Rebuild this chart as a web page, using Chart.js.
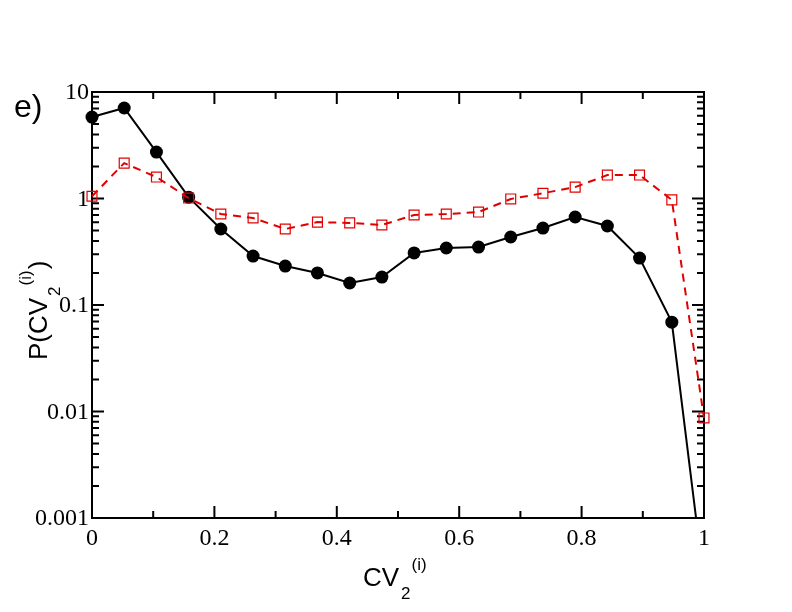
<!DOCTYPE html>
<html><head><meta charset="utf-8">
<script src="https://cdn.jsdelivr.net/npm/chart.js@4"></script>
<style>html,body{margin:0;padding:0;background:#fff;}#wrap{width:792px;height:612px;position:relative;}</style>
</head><body><div id="wrap"><canvas id="c" width="792" height="612"></canvas></div>
<script>
// ---- data ----
const xValues = [0, 0.0526, 0.1053, 0.1579, 0.2105, 0.2632, 0.3158, 0.3684, 0.4211, 0.4737,
                 0.5263, 0.5789, 0.6316, 0.6842, 0.7368, 0.7895, 0.8421, 0.8947, 0.9474, 1.0];
const blackValues = [5.82, 7.08, 2.73, 1.03, 0.517, 0.288, 0.232, 0.200, 0.161, 0.183,
                     0.308, 0.343, 0.350, 0.435, 0.528, 0.670, 0.552, 0.276, 0.069, 0.00025];
const redValues = [1.05, 2.15, 1.59, 1.01, 0.715, 0.656, 0.517, 0.600, 0.590, 0.564,
                   0.700, 0.715, 0.746, 0.990, 1.12, 1.28, 1.66, 1.66, 0.970, 0.0087];
const xTickValues = [0, 0.2, 0.4, 0.6, 0.8, 1];
const xTickLabels = ['0', '0.2', '0.4', '0.6', '0.8', '1'];
const xMinorTicks = [0.1, 0.3, 0.5, 0.7, 0.9];
const yTickValues = [0.001, 0.01, 0.1, 1, 10];
const yTickLabels = ['0.001', '0.01', '0.1', '1', '10'];
const panelLabel = 'e)';

const RED = 'rgb(225,0,0)';
const toPts = ys => xValues.map((x, i) => ({x: x, y: ys[i]}));

const framePlugin = {
  id: 'frame',
  beforeDatasetsDraw(chart) {
    const {ctx, chartArea: a, scales: {x, y}} = chart;
    ctx.save();
    ctx.strokeStyle = '#000';
    ctx.lineWidth = 2;
    ctx.strokeRect(a.left, a.top, a.right - a.left, a.bottom - a.top);
    const tick = (px, len, vertical) => {
      ctx.beginPath();
      if (vertical) {
        ctx.moveTo(px, a.bottom); ctx.lineTo(px, a.bottom - len);
        ctx.moveTo(px, a.top); ctx.lineTo(px, a.top + len);
      } else {
        ctx.moveTo(a.left, px); ctx.lineTo(a.left + len, px);
        ctx.moveTo(a.right, px); ctx.lineTo(a.right - len, px);
      }
      ctx.stroke();
    };
    xTickValues.forEach(v => tick(x.getPixelForValue(v), 12, true));
    xMinorTicks.forEach(v => tick(x.getPixelForValue(v), 7, true));
    yTickValues.forEach(v => tick(y.getPixelForValue(v), 12, false));
    for (let d = 0; d < yTickValues.length - 1; d++) {
      for (let m = 2; m <= 9; m++) tick(y.getPixelForValue(yTickValues[d] * m), 7, false);
    }
    ctx.restore();
  },
  afterDraw(chart) {
    const {ctx} = chart;
    ctx.save();
    ctx.fillStyle = '#000';
    ctx.textBaseline = 'alphabetic';
    ctx.textAlign = 'left';
    const drawTitle = (x0, y0) => {
      let cx = x0;
      ctx.font = '26px "Liberation Sans", Arial, sans-serif';
      ctx.fillText('CV', cx, y0); cx += ctx.measureText('CV').width + 2;
      ctx.font = '17px "Liberation Sans", Arial, sans-serif';
      ctx.fillText('2', cx, y0 + 13); cx += ctx.measureText('2').width + 1;
      ctx.fillText('(i)', cx, y0 - 16); cx += ctx.measureText('(i)').width;
      return cx;
    };
    // x title
    drawTitle(363, 586);
    // y title (rotated)
    ctx.save();
    ctx.translate(47, 360);
    ctx.rotate(-Math.PI / 2);
    ctx.font = '26px "Liberation Sans", Arial, sans-serif';
    ctx.fillText('P(', 0, 0);
    let w = ctx.measureText('P(').width;
    let end = drawTitle(w, 0);
    ctx.font = '26px "Liberation Sans", Arial, sans-serif';
    ctx.fillText(')', end + 1, 0);
    ctx.restore();
    // panel label
    ctx.font = '32px "Liberation Sans", Arial, sans-serif';
    ctx.fillText(panelLabel, 14, 117);
    ctx.restore();
  }
};

new Chart(document.getElementById('c'), {
  type: 'line',
  data: {
    datasets: [
      {
        data: toPts(redValues),
        borderColor: RED, borderWidth: 2, borderDash: [8, 6],
        pointStyle: 'rect', pointRadius: 7, pointBorderWidth: 1.2,
        pointBorderColor: RED, pointBackgroundColor: 'rgba(0,0,0,0)',
        tension: 0, clip: false
      },
      {
        data: toPts(blackValues),
        borderColor: '#000', borderWidth: 2,
        pointStyle: 'circle', pointRadius: 6.5, pointBorderWidth: 0,
        pointBackgroundColor: '#000', pointBorderColor: '#000',
        tension: 0, clip: {left: 12, top: 12, right: 12, bottom: 0}
      }
    ]
  },
  options: {
    responsive: false, animation: false, devicePixelRatio: 1,
    layout: {padding: {top: 92, right: 88, left: 0, bottom: 0}},
    plugins: {legend: {display: false}, tooltip: {enabled: false}},
    scales: {
      x: {
        type: 'linear', min: 0, max: 1,
        grid: {display: false, drawTicks: false}, border: {display: false},
        afterBuildTicks: s => { s.ticks = xTickValues.map(v => ({value: v})); },
        afterFit: s => { s.height = 94; },
        ticks: {
          color: '#000', padding: 6, maxRotation: 0, autoSkip: false,
          font: {family: '"Liberation Serif", "Times New Roman", serif', size: 24},
          callback: (v, i) => xTickLabels[i]
        }
      },
      y: {
        type: 'logarithmic', min: 0.001, max: 10,
        grid: {display: false, drawTicks: false}, border: {display: false},
        afterBuildTicks: s => { s.ticks = yTickValues.map(v => ({value: v, major: true})); },
        afterFit: s => { s.width = 92; },
        ticks: {
          color: '#000', padding: 3, autoSkip: false, labelOffset: 1,
          font: {family: '"Liberation Serif", "Times New Roman", serif', size: 24},
          callback: (v, i) => yTickLabels[i]
        }
      }
    }
  },
  plugins: [framePlugin]
});
</script></body></html>
